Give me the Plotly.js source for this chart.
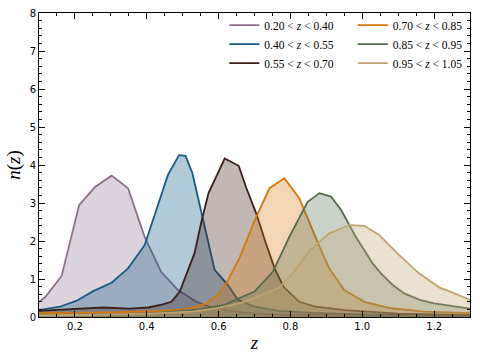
<!DOCTYPE html>
<html>
<head>
<meta charset="utf-8">
<script src="https://cdn.plot.ly/plotly-3.0.1.min.js"></script>
<style>
  html, body { margin: 0; padding: 0; background: #fff; }
  #chart { width: 480px; height: 360px; }
</style>
</head>
<body>
<div id="chart"></div>
<script>
// redshift bins (legend labels)
const binLabels = [
    '0.20 < <i>z</i> < 0.40',
    '0.40 < <i>z</i> < 0.55',
    '0.55 < <i>z</i> < 0.70',
    '0.70 < <i>z</i> < 0.85',
    '0.85 < <i>z</i> < 0.95',
    '0.95 < <i>z</i> < 1.05'
];

// n(z) curves
const z1 = [0.10, 0.118, 0.163, 0.212, 0.256, 0.302, 0.348, 0.394, 0.44, 0.487, 0.538, 0.575, 0.63, 0.677, 0.75, 0.85, 1.0, 1.15, 1.3];
const n1 = [0.40, 0.53, 1.08, 2.95, 3.42, 3.72, 3.39, 2.11, 1.19, 0.71, 0.40, 0.27, 0.17, 0.11, 0.07, 0.05, 0.04, 0.03, 0.03];

const z2 = [0.10, 0.158, 0.205, 0.251, 0.302, 0.348, 0.394, 0.427, 0.459, 0.49, 0.508, 0.527, 0.556, 0.589, 0.626, 0.654, 0.70, 0.765, 0.862, 1.0, 1.15, 1.3];
const n2 = [0.18, 0.27, 0.43, 0.68, 0.90, 1.28, 1.89, 2.82, 3.74, 4.26, 4.24, 3.79, 2.62, 1.24, 0.84, 0.45, 0.27, 0.16, 0.11, 0.07, 0.05, 0.04];

const z3 = [0.10, 0.20, 0.277, 0.353, 0.404, 0.445, 0.469, 0.492, 0.533, 0.552, 0.572, 0.617, 0.656, 0.677, 0.705, 0.731, 0.756, 0.781, 0.825, 0.87, 0.95, 1.1, 1.3];
const n3 = [0.16, 0.20, 0.25, 0.22, 0.25, 0.33, 0.40, 0.67, 1.68, 2.50, 3.26, 4.17, 3.98, 3.40, 2.72, 1.96, 1.28, 0.79, 0.40, 0.27, 0.18, 0.09, 0.05];

const z4 = [0.10, 0.30, 0.44, 0.50, 0.533, 0.57, 0.60, 0.625, 0.658, 0.705, 0.742, 0.783, 0.825, 0.853, 0.881, 0.908, 0.95, 1.006, 1.08, 1.172, 1.3];
const n4 = [0.10, 0.12, 0.16, 0.20, 0.25, 0.38, 0.60, 0.95, 1.55, 2.64, 3.39, 3.65, 3.12, 2.47, 1.85, 1.28, 0.71, 0.40, 0.23, 0.14, 0.10];

const z5 = [0.10, 0.40, 0.547, 0.617, 0.658, 0.70, 0.751, 0.797, 0.848, 0.881, 0.913, 0.941, 0.982, 1.029, 1.052, 1.084, 1.117, 1.16, 1.20, 1.25, 1.3];
const n5 = [0.05, 0.08, 0.20, 0.32, 0.50, 0.67, 1.19, 2.11, 3.03, 3.26, 3.17, 2.82, 2.11, 1.41, 1.15, 0.85, 0.62, 0.45, 0.36, 0.28, 0.22];

const z6 = [0.10, 0.40, 0.533, 0.60, 0.658, 0.70, 0.77, 0.81, 0.853, 0.908, 0.964, 1.006, 1.047, 1.103, 1.158, 1.214, 1.25, 1.3];
const n6 = [0.04, 0.08, 0.15, 0.24, 0.36, 0.50, 0.78, 1.20, 1.75, 2.20, 2.42, 2.40, 2.16, 1.63, 1.15, 0.78, 0.65, 0.45];

const lineColors = ['#8c6f8b', '#165a86', '#3d1f1a', '#d4780a', '#536b4c', '#bfa36f'];
const fillColors = [
    'rgba(140,111,139,0.30)',
    'rgba(22,90,134,0.33)',
    'rgba(61,31,26,0.32)',
    'rgba(212,120,10,0.30)',
    'rgba(83,107,76,0.30)',
    'rgba(191,163,111,0.33)'
];

const zs = [z1, z2, z3, z4, z5, z6];
const ns = [n1, n2, n3, n4, n5, n6];

const traces = [];
zs.forEach((z, i) => {
    // shaded area
    traces.push({
        x: z, y: ns[i],
        type: 'scatter', mode: 'lines',
        fill: 'tozeroy',
        fillcolor: fillColors[i],
        line: { width: 0, color: lineColors[i] },
        showlegend: false,
        hoverinfo: 'skip'
    });
    // outline
    traces.push({
        x: z, y: ns[i],
        type: 'scatter', mode: 'lines',
        name: binLabels[i],
        line: { width: 1.8, color: lineColors[i] },
        legend: i < 3 ? 'legend' : 'legend2'
    });
});

const tickFont = { family: 'DejaVu Sans, sans-serif', size: 10, color: '#000' };
const legendFont = { family: 'Liberation Serif, serif', size: 11.5, color: '#000' };

const axisBase = {
    showline: true,
    linecolor: '#000',
    linewidth: 1,
    mirror: 'allticks',
    ticks: 'inside',
    ticklen: 6,
    tickwidth: 1,
    tickcolor: '#000',
    showgrid: false,
    zeroline: false,
    tickfont: tickFont
};

const layout = {
    width: 480,
    height: 360,
    margin: { l: 39, r: 10, t: 13, b: 43 },
    paper_bgcolor: '#fff',
    plot_bgcolor: '#fff',
    xaxis: Object.assign({}, axisBase, {
        range: [0.1, 1.3],
        tick0: 0.2,
        dtick: 0.2,
        tickformat: '.1f',
        minor: { dtick: 0.05, ticks: 'inside', ticklen: 3, tickcolor: '#000', showgrid: false },
        title: { text: '<i>z</i>', font: { family: 'Liberation Serif, serif', size: 19, color: '#000' }, standoff: 4 }
    }),
    yaxis: Object.assign({}, axisBase, {
        range: [0, 8],
        tick0: 0,
        dtick: 1,
        minor: { dtick: 0.2, ticks: 'inside', ticklen: 3, tickcolor: '#000', showgrid: false },
        title: { text: '<i>n</i>(<i>z</i>)', font: { family: 'Liberation Serif, serif', size: 19, color: '#000' }, standoff: 3 }
    }),
    legend: {
        x: 0.43, y: 1.008, xanchor: 'left', yanchor: 'top',
        bgcolor: 'rgba(0,0,0,0)',
        font: legendFont,
        itemwidth: 30,
        tracegroupgap: 0
    },
    legend2: {
        x: 0.728, y: 1.008, xanchor: 'left', yanchor: 'top',
        bgcolor: 'rgba(0,0,0,0)',
        font: legendFont,
        itemwidth: 30,
        tracegroupgap: 0
    }
};

Plotly.newPlot('chart', traces, layout, { displayModeBar: false, staticPlot: true });
</script>
</body>
</html>
